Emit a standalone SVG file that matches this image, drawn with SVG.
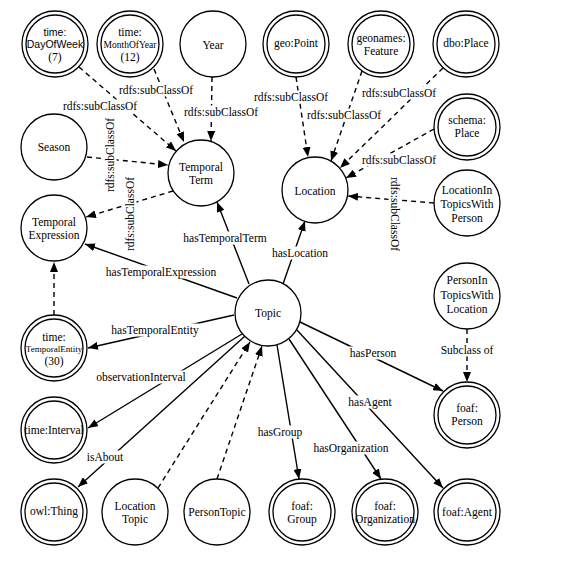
<svg xmlns="http://www.w3.org/2000/svg" width="583" height="583" viewBox="0 0 583 583">
<defs>
<style>
.n circle{fill:#fff;stroke:#000;stroke-width:1.3}
text{font-family:"Liberation Serif","Times New Roman",serif;font-size:11.5px;fill:#000;text-anchor:middle}
.sans{font-family:"Liberation Sans",Arial,sans-serif;font-size:10.5px}
.e{stroke:#000;stroke-width:1.4;fill:none;marker-end:url(#ah)}
.d{stroke-dasharray:5,4}
.bg{fill:#fff;stroke:none}
</style>
<marker id="ah" viewBox="0 0 10 8" refX="10" refY="4" markerWidth="10" markerHeight="8" markerUnits="userSpaceOnUse" orient="auto"><path d="M0,0 L10,4 L0,8 z" fill="#000"/></marker>
</defs>
<rect width="583" height="583" fill="#fff"/>
<g id="connectors">
<line class="e d" x1="79" y1="67" x2="176" y2="151"/>
<line class="e d" x1="154" y1="69" x2="184" y2="142"/>
<line class="e d" x1="212" y1="77" x2="211" y2="141"/>
<line class="e d" x1="87" y1="157" x2="168" y2="165"/>
<line class="e d" x1="173" y1="191" x2="86" y2="217"/>
<line class="e d" x1="54" y1="315" x2="54" y2="262"/>
<line class="e d" x1="296" y1="77" x2="308" y2="157"/>
<line class="e d" x1="362" y1="71" x2="331" y2="161"/>
<line class="e d" x1="443" y1="68" x2="340" y2="168"/>
<line class="e d" x1="434" y1="129" x2="346" y2="178"/>
<line class="e d" x1="434" y1="203" x2="348" y2="196"/>
<line class="e d" x1="467" y1="329" x2="467" y2="382"/>
<line class="e d" x1="158" y1="488" x2="250" y2="342"/>
<line class="e d" x1="217" y1="479" x2="262" y2="346"/>
<line class="e" x1="249" y1="284" x2="217" y2="202"/>
<line class="e" x1="283" y1="284" x2="305" y2="221"/>
<line class="e" x1="237" y1="298" x2="85" y2="244"/>
<line class="e" x1="234" y1="315" x2="88" y2="348"/>
<line class="e" x1="242" y1="334" x2="88" y2="428"/>
<line class="e" x1="245" y1="336" x2="78" y2="487"/>
<line class="e" x1="277" y1="345" x2="299" y2="479"/>
<line class="e" x1="289" y1="339" x2="381" y2="479"/>
<line class="e" x1="296" y1="329" x2="443" y2="488"/>
<line class="e" x1="300" y1="322" x2="443" y2="391"/>
<g id="labels">
<rect class="bg" x="62" y="99.5" width="76" height="13"/><text x="100" y="110">rdfs:subClassOf</text>
<rect class="bg" x="118" y="83.5" width="76" height="13"/><text x="156" y="94">rdfs:subClassOf</text>
<rect class="bg" x="183" y="105.5" width="76" height="13"/><text x="221" y="116">rdfs:subClassOf</text>
<g transform="translate(110,155) rotate(-90)"><rect class="bg" x="-38" y="-6.5" width="76" height="13"/><text x="0" y="4">rdfs:subClassOf</text></g>
<g transform="translate(130,214) rotate(-90)"><rect class="bg" x="-38" y="-6.5" width="76" height="13"/><text x="0" y="4">rdfs:subClassOf</text></g>
<rect class="bg" x="253" y="90.5" width="76" height="13"/><text x="291" y="101">rdfs:subClassOf</text>
<rect class="bg" x="306" y="108.5" width="76" height="13"/><text x="344" y="119">rdfs:subClassOf</text>
<rect class="bg" x="361" y="86.5" width="76" height="13"/><text x="399" y="97">rdfs:subClassOf</text>
<rect class="bg" x="361" y="153.5" width="76" height="13"/><text x="399" y="164">rdfs:subClassOf</text>
<g transform="translate(395,214) rotate(90)"><rect class="bg" x="-38" y="-6.5" width="76" height="13"/><text x="0" y="4">rdfs:subClassOf</text></g>
<rect class="bg" x="440" y="343.5" width="54" height="13"/><text x="467" y="354">Subclass of</text>
<rect class="bg" x="182" y="231.5" width="86" height="13"/><text x="225" y="242">hasTemporalTerm</text>
<rect class="bg" x="272" y="246.5" width="56" height="13"/><text x="300" y="257">hasLocation</text>
<rect class="bg" x="105" y="265.5" width="112" height="13"/><text x="161" y="276">hasTemporalExpression</text>
<rect class="bg" x="111" y="323.5" width="88" height="13"/><text x="155" y="334">hasTemporalEntity</text>
<rect class="bg" x="96" y="370.5" width="90" height="13"/><text x="141" y="381">observationInterval</text>
<rect class="bg" x="87" y="450.5" width="37" height="13"/><text x="105" y="461">isAbout</text>
<rect class="bg" x="257" y="425.5" width="46" height="13"/><text x="280" y="436">hasGroup</text>
<rect class="bg" x="313" y="441.5" width="76" height="13"/><text x="351" y="452">hasOrganization</text>
<rect class="bg" x="348" y="395.5" width="44" height="13"/><text x="370" y="406">hasAgent</text>
<rect class="bg" x="349" y="346.5" width="48" height="13"/><text x="373" y="357">hasPerson</text>
</g>
</g>
<g id="n-dayofweek" class="n"><circle cx="55" cy="44" r="33"/><circle cx="55" cy="44" r="29"/><text class="sans" x="55" y="35.5">time:</text><text class="sans" x="55" y="48">DayOfWeek</text><text x="55" y="60.5">(7)</text></g>
<g id="n-monthofyear" class="n"><circle cx="130" cy="44" r="33"/><circle cx="130" cy="44" r="29"/><text x="130" y="36">time:</text><text x="130" y="48" style="font-size:9.5px">MonthOfYear</text><text x="130" y="60.5">(12)</text></g>
<g id="n-year" class="n"><circle cx="213" cy="44" r="33"/><text x="213" y="49">Year</text></g>
<g id="n-geopoint" class="n"><circle cx="296" cy="44" r="33"/><circle cx="296" cy="44" r="29"/><text x="296" y="47">geo:Point</text></g>
<g id="n-geonames" class="n"><circle cx="381" cy="44" r="33"/><circle cx="381" cy="44" r="29"/><text x="381" y="42">geonames:</text><text x="381" y="55">Feature</text></g>
<g id="n-dboplace" class="n"><circle cx="466" cy="44" r="33"/><circle cx="466" cy="44" r="29"/><text x="466" y="47">dbo:Place</text></g>
<g id="n-schemaplace" class="n"><circle cx="467" cy="127" r="33"/><circle cx="467" cy="127" r="29"/><text x="467" y="124">schema:</text><text x="467" y="137">Place</text></g>
<g id="n-season" class="n"><circle cx="54" cy="147" r="33"/><text x="54" y="151">Season</text></g>
<g id="n-temporalterm" class="n"><circle cx="201" cy="173" r="33"/><text x="201" y="171">Temporal</text><text x="201" y="184">Term</text></g>
<g id="n-location" class="n"><circle cx="315" cy="190" r="33"/><text x="315" y="195">Location</text></g>
<g id="n-temporalexpression" class="n"><circle cx="54" cy="228" r="33"/><text x="54" y="226">Temporal</text><text x="54" y="239">Expression</text></g>
<g id="n-locintopics" class="n"><circle cx="467" cy="203" r="33"/><text x="467" y="194">LocationIn</text><text x="467" y="208">TopicsWith</text><text x="467" y="222">Person</text></g>
<g id="n-topic" class="n"><circle cx="268" cy="313" r="33"/><text x="268" y="317">Topic</text></g>
<g id="n-personintopics" class="n"><circle cx="467" cy="296" r="33"/><text x="467" y="284">PersonIn</text><text x="467" y="299">TopicsWith</text><text x="467" y="313">Location</text></g>
<g id="n-temporalentity" class="n"><circle cx="54" cy="348" r="33"/><circle cx="54" cy="348" r="29"/><text x="54" y="341">time:</text><text x="54" y="352" style="font-size:9px">TemporalEntity</text><text x="54" y="365">(30)</text></g>
<g id="n-interval" class="n"><circle cx="54" cy="430" r="33"/><circle cx="54" cy="430" r="29"/><text x="54" y="434">time:Interval</text></g>
<g id="n-person" class="n"><circle cx="467" cy="415" r="33"/><circle cx="467" cy="415" r="29"/><text x="467" y="412">foaf:</text><text x="467" y="425">Person</text></g>
<g id="n-owlthing" class="n"><circle cx="54" cy="512" r="33"/><circle cx="54" cy="512" r="29"/><text x="54" y="515">owl:Thing</text></g>
<g id="n-locationtopic" class="n"><circle cx="135" cy="512" r="33"/><text x="135" y="510">Location</text><text x="135" y="523">Topic</text></g>
<g id="n-persontopic" class="n"><circle cx="217" cy="512" r="33"/><text x="217" y="516">PersonTopic</text></g>
<g id="n-group" class="n"><circle cx="302" cy="512" r="33"/><circle cx="302" cy="512" r="29"/><text x="302" y="510">foaf:</text><text x="302" y="523">Group</text></g>
<g id="n-organization" class="n"><circle cx="385" cy="512" r="33"/><circle cx="385" cy="512" r="29"/><text x="385" y="510">foaf:</text><text x="385" y="523">Organization</text></g>
<g id="n-agent" class="n"><circle cx="467" cy="512" r="33"/><circle cx="467" cy="512" r="29"/><text x="467" y="516">foaf:Agent</text></g>
</svg>
